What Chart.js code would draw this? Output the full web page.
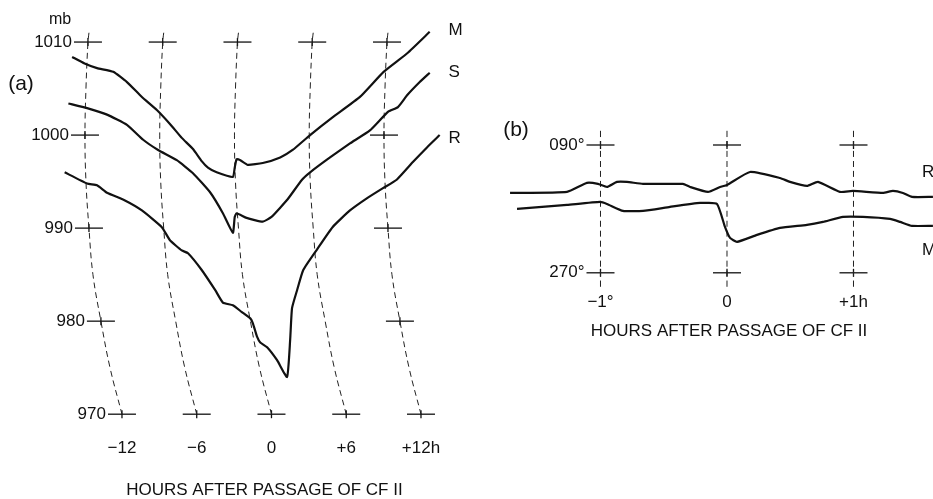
<!DOCTYPE html>
<html>
<head>
<meta charset="utf-8">
<script src="https://cdn.jsdelivr.net/npm/chart.js@4.4.0/dist/chart.umd.min.js"></script>
<style>
  html, body { margin: 0; padding: 0; background: #fff; overflow: hidden; }
  #wrap { position: relative; width: 933px; height: 499px; }
  #box-a { position: absolute; left: 0; top: 0; width: 470px; height: 501px; }
  #box-b { position: absolute; left: 470px; top: 110px; width: 480px; height: 232px; }
</style>
</head>
<body>
<div id="wrap">
  <div id="box-a"><canvas id="chart-a"></canvas></div>
  <div id="box-b"><canvas id="chart-b"></canvas></div>
</div>
<script>
// (a) pressure (mb) against hours after passage of CF II
const aHourTicks = [-12, -6, 0, 6, 12];
const aHourLabels = ['\u221212', '\u22126', '0', '+6', '+12h'];
const aPressureTicks = [1010, 1000, 990, 980, 970];
const aFullCrossLevels = [1010, 970];
const aSideCrossLevels = [1000, 990, 980];
const aSideCrossCols = [-12, 12];

// the barograph time lines are arcs: shift (hours) of each time line at a pressure level
const arcLevels = [1011, 1010, 1005, 1000, 995, 990, 985, 980, 975, 970];
const arcShift = [-2.65, -2.73, -2.89, -2.97, -2.89, -2.65, -2.33, -1.69, -0.96, 0];

const mHours = [-16.0, -15.0, -14.0, -12.7, -11.6, -10.4, -9.2, -8.15, -7.2, -6.3, -5.6, -5.1, -4.4, -3.1, -2.95, -2.8, -2.5, -1.9, -0.7, 0.7, 1.7, 3.1, 4.9, 7.1, 9.0, 10.9, 12.7];
const mPressure = [1008.4, 1007.7, 1007.2, 1006.8, 1005.7, 1004.1, 1002.7, 1001.2, 999.7, 998.5, 997.2, 996.5, 996.0, 995.5, 996.5, 997.4, 997.3, 996.8, 997.0, 997.6, 998.4, 1000.0, 1001.9, 1004.1, 1006.8, 1008.8, 1011.1];

const sHours = [-16.3, -14.8, -13.2, -11.6, -10.3, -9.1, -7.6, -6.3, -4.9, -3.9, -3.1, -2.95, -2.8, -2.0, -0.7, 0.0, 0.7, 1.3, 2.45, 3.1, 4.7, 6.3, 7.9, 9.35, 10.15, 10.9, 11.9, 12.7];
const sPressure = [1003.4, 1002.9, 1002.2, 1001.1, 999.5, 998.4, 997.3, 995.9, 993.8, 991.6, 989.5, 991.2, 991.6, 991.1, 990.7, 991.2, 992.2, 993.1, 995.2, 996.0, 997.6, 999.1, 1000.5, 1002.5, 1003.0, 1004.3, 1005.7, 1006.7];

const rHours = [-16.6, -14.8, -14.0, -13.2, -11.8, -10.4, -8.8, -8.15, -7.2, -6.7, -5.6, -4.5, -3.9, -3.1, -2.4, -1.7, -1.5, -1.15, -0.9, -0.35, 0.45, 1.25, 1.5, 1.65, 2.05, 2.55, 3.65, 4.9, 6.3, 7.65, 8.95, 10.05, 11.35, 12.5, 13.5];
const rPressure = [996.0, 994.8, 994.6, 993.8, 993.0, 991.9, 990.1, 988.7, 987.6, 987.3, 985.5, 983.3, 982.0, 981.7, 981.0, 980.3, 979.8, 978.3, 977.7, 977.2, 975.8, 974.0, 978.0, 981.4, 983.3, 985.5, 987.7, 990.1, 991.9, 993.2, 994.3, 995.2, 997.1, 998.7, 1000.0];

// (b) wind direction (degrees) against hours after passage of CF II
const bHourTicks = [-1, 0, 1];
const bHourLabels = ['\u22121\u00b0', '0', '+1h'];
const bDirTicks = [90, 270];
const bDirLabels = ['090\u00b0', '270\u00b0'];
const bDashRange = [70, 290];

const bRHours = [-1.715, -1.265, -1.107, -1.02, -0.949, -0.87, -0.791, -0.664, -0.348, -0.292, -0.15, -0.055, 0, 0.182, 0.419, 0.498, 0.632, 0.719, 0.893, 0.996, 1.233, 1.312, 1.391, 1.462, 1.628];
const bRDir = [157.5, 156.1, 143.4, 144.8, 149.1, 142.0, 142.0, 144.8, 144.8, 149.1, 156.1, 149.1, 146.3, 128.0, 136.4, 142.0, 147.7, 142.0, 156.1, 154.7, 157.5, 154.7, 157.5, 163.1, 163.1];

const bMHours = [-1.66, -1.265, -1.004, -0.949, -0.822, -0.664, -0.451, -0.213, -0.079, -0.016, 0.024, 0.079, 0.237, 0.419, 0.632, 0.759, 0.917, 1.075, 1.289, 1.368, 1.462, 1.628];
const bMDir = [180.0, 174.4, 170.2, 173.0, 182.8, 182.8, 177.2, 171.6, 173.0, 205.3, 220.8, 226.4, 216.6, 206.7, 202.5, 198.3, 191.3, 191.3, 194.1, 198.3, 203.9, 203.9];

const xTitle = 'HOURS AFTER PASSAGE OF CF II';
const family = '"Liberation Sans", Arial, sans-serif';
const ink = '#111';

Chart.defaults.font.family = family;
Chart.defaults.font.size = 17;
Chart.defaults.color = ink;

const zip = (xs, ys) => xs.map((v, i) => ({ x: v, y: ys[i] }));
const shiftAt = (p) => arcShift[arcLevels.indexOf(p)];

// traces run a little past the plot box, as in the figure
const curve = (data) => ({
  data,
  borderColor: ink,
  borderWidth: 2.2,
  pointRadius: 0,
  tension: 0.15,
  fill: false,
  clip: false,
});

const dashed = (data) => ({
  data,
  borderColor: '#222',
  borderWidth: 1,
  borderDash: [6, 4],
  pointRadius: 0,
  tension: 0.4,
  fill: false,
  clip: false,
});

const crossBars = (data, radius, rotation) => ({
  data,
  showLine: false,
  pointStyle: 'line',
  pointRadius: radius,
  pointRotation: rotation,
  pointBorderColor: ink,
  pointBorderWidth: 1.3,
  borderColor: ink,
  clip: false,
});

// Panel (a)
const aCrossPts = [];
for (const c of aHourTicks) {
  for (const p of aFullCrossLevels) aCrossPts.push({ x: c + shiftAt(p), y: p });
}
for (const c of aSideCrossCols) {
  for (const p of aSideCrossLevels) aCrossPts.push({ x: c + shiftAt(p), y: p });
}
const aArcSets = aHourTicks.map((c) => dashed(arcLevels.map((p, i) => ({ x: c + arcShift[i], y: p }))));

const labelsA = {
  id: 'labelsA',
  afterDraw(chart) {
    const { ctx, scales: { x, y } } = chart;
    ctx.save();
    ctx.fillStyle = ink;
    ctx.textBaseline = 'middle';
    ctx.font = `17px ${family}`;
    ctx.textAlign = 'right';
    for (const p of aPressureTicks) {
      ctx.fillText(String(p), x.getPixelForValue(-12 + shiftAt(p)) - 16, y.getPixelForValue(p));
    }
    ctx.textAlign = 'left';
    ctx.fillText('M', x.getPixelForValue(14.2), y.getPixelForValue(1011.3));
    ctx.fillText('S', x.getPixelForValue(14.2), y.getPixelForValue(1006.7));
    ctx.fillText('R', x.getPixelForValue(14.2), y.getPixelForValue(999.7));
    ctx.textAlign = 'center';
    ctx.font = `16px ${family}`;
    ctx.fillText('mb', 60, 20);
    ctx.font = `21px ${family}`;
    ctx.fillText('(a)', 21, 84);
    ctx.restore();
  },
};

new Chart(document.getElementById('chart-a'), {
  type: 'line',
  data: {
    datasets: [
      curve(zip(mHours, mPressure)),
      curve(zip(sHours, sPressure)),
      curve(zip(rHours, rPressure)),
      ...aArcSets,
      crossBars(aCrossPts, 14, 0),
      crossBars(aCrossPts, 4, 90),
    ],
  },
  options: {
    responsive: true,
    maintainAspectRatio: false,
    animation: false,
    layout: { padding: { left: 83, right: 24.1, top: 16, bottom: 0 } },
    plugins: { legend: { display: false }, tooltip: { enabled: false } },
    scales: {
      x: {
        type: 'linear',
        min: -15.128,
        max: 14,
        afterBuildTicks: (axis) => { axis.ticks = aHourTicks.map((v) => ({ value: v })); },
        ticks: {
          padding: 5,
          maxRotation: 0,
          callback: (v) => aHourLabels[aHourTicks.indexOf(v)],
        },
        grid: { display: false, drawTicks: false },
        border: { display: false },
        title: { display: true, text: xTitle, font: { size: 17 }, padding: { top: 17.4, bottom: 0 } },
      },
      y: { type: 'linear', min: 968, max: 1012.8, display: false },
    },
  },
  plugins: [labelsA],
});

// Panel (b)
const bCrossPts = [];
for (const c of bHourTicks) {
  for (const d of bDirTicks) bCrossPts.push({ x: c, y: d });
}
const bLineSets = bHourTicks.map((c) => dashed(bDashRange.map((d) => ({ x: c, y: d }))));

const labelsB = {
  id: 'labelsB',
  afterDraw(chart) {
    const { ctx, scales: { x, y } } = chart;
    ctx.save();
    ctx.fillStyle = ink;
    ctx.textBaseline = 'middle';
    ctx.font = `17px ${family}`;
    ctx.textAlign = 'right';
    bDirTicks.forEach((d, i) => {
      ctx.fillText(bDirLabels[i], x.getPixelForValue(-1) - 16, y.getPixelForValue(d));
    });
    ctx.textAlign = 'left';
    ctx.fillText('R', 452, y.getPixelForValue(129));
    ctx.fillText('M', 452, y.getPixelForValue(238));
    ctx.textAlign = 'center';
    ctx.font = `21px ${family}`;
    ctx.fillText('(b)', 46, 20);
    ctx.restore();
  },
};

new Chart(document.getElementById('chart-b'), {
  type: 'line',
  data: {
    datasets: [
      curve(zip(bRHours, bRDir)),
      curve(zip(bMHours, bMDir)),
      ...bLineSets,
      crossBars(bCrossPts, 14, 0),
      crossBars(bCrossPts, 4, 90),
    ],
  },
  options: {
    responsive: true,
    maintainAspectRatio: false,
    animation: false,
    layout: { padding: { left: 54, right: 16, top: 20.8, bottom: 0 } },
    plugins: { legend: { display: false }, tooltip: { enabled: false } },
    scales: {
      x: {
        type: 'linear',
        min: -1.6047,
        max: 1.6364,
        afterBuildTicks: (axis) => { axis.ticks = bHourTicks.map((v) => ({ value: v })); },
        ticks: {
          padding: 5.4,
          maxRotation: 0,
          callback: (v) => bHourLabels[bHourTicks.indexOf(v)],
        },
        grid: { display: false, drawTicks: false },
        border: { display: false },
        title: { display: true, text: xTitle, font: { size: 17 }, padding: { top: 3.4, bottom: 0 } },
      },
      y: { type: 'linear', min: 70, max: 290, reverse: true, display: false },
    },
  },
  plugins: [labelsB],
});
</script>
</body>
</html>
